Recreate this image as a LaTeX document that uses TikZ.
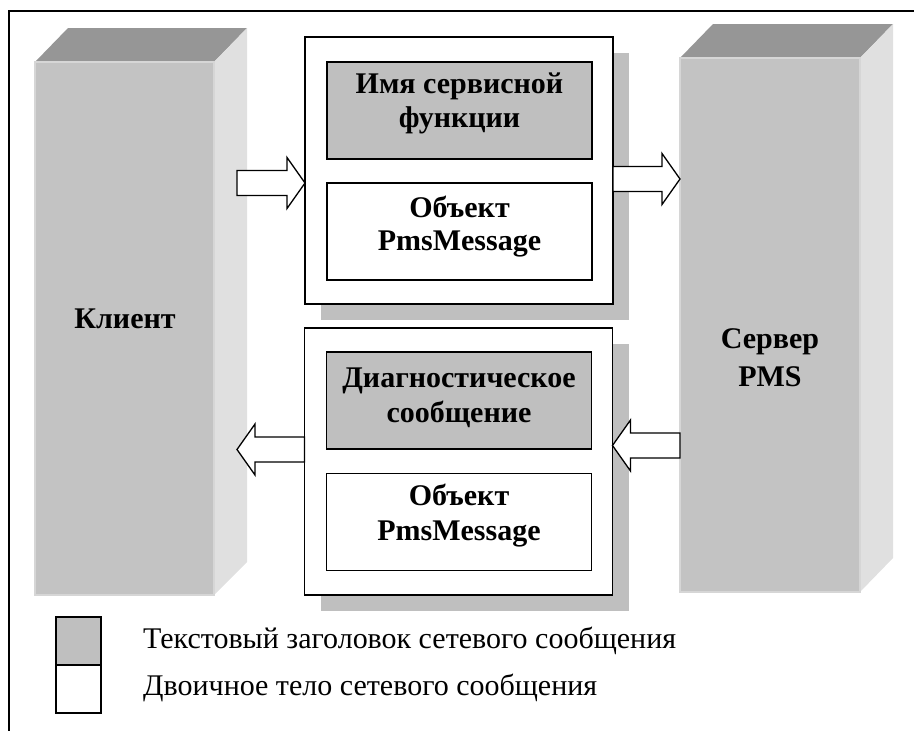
\documentclass[tikz,border=0pt]{standalone}
\usepackage{fontspec}
\setmainfont{Liberation Serif}
\usetikzlibrary{calc,backgrounds}

\definecolor{pfront}{gray}{0.765}
\definecolor{ptop}{gray}{0.59}
\definecolor{pside}{gray}{0.88}
\definecolor{pedge}{gray}{0.84}
\definecolor{hdrgray}{gray}{0.75}
\definecolor{shadowgray}{gray}{0.75}

\tikzset{
  pillarfront/.style={fill=pfront, draw=pedge, line width=1.2pt, inner sep=0pt, outer sep=0pt},
  pillartop/.style={fill=ptop},
  pillarside/.style={fill=pside},
  msgbox/.style={draw, fill=white, line width=1.6pt, inner sep=0pt, outer sep=0pt,
                 minimum width=308pt, minimum height=267pt},
  partbox/.style={draw, line width=1.6pt, inner sep=0pt, outer sep=0pt,
                  minimum width=265pt, minimum height=97pt},
  hdrbox/.style={partbox, fill=hdrgray},
  bodybox/.style={partbox, fill=white},
  btext/.style={font=\fontsize{30}{34}\selectfont\bfseries, anchor=base, inner sep=0pt},
  barrow/.style={draw, fill=white, line width=1.3pt, line join=miter},
  legbox/.style={draw, line width=1.4pt, minimum width=45pt, minimum height=48pt,
                 inner sep=0pt, outer sep=0pt},
  legtext/.style={font=\fontsize{30}{34}\selectfont, anchor=base west, inner sep=0pt},
  frameline/.style={line width=1.4pt},
}

% hollow block arrow from #1 to #2 (both on one horizontal line)
\newcommand\blockarrow[2]{%
  \coordinate (hb) at ($(#2)!18pt!(#1)$);
  \draw[barrow] ($(#1)+(0,-12.5)$) -- ($(hb)+(0,-12.5)$) -- ($(hb)+(0,-25.5)$)
    -- (#2) -- ($(hb)+(0,25.5)$) -- ($(hb)+(0,12.5)$) -- ($(#1)+(0,12.5)$) -- cycle;}

\begin{document}
\begin{tikzpicture}[x=1pt, y=-1pt]
\useasboundingbox (0,0) rectangle (914,731);

% outer frame (left and top edges)
\draw[frameline] (9,731) -- (9,11) -- (914,11);

% client pillar
\fill[pillartop] (35,62) -- (68,28) -- (247,28) -- (214,62) -- cycle;
\fill[pillarside] (214,62) -- (247,28) -- (247,562) -- (214,595) -- cycle;
\node[pillarfront, minimum width=179pt, minimum height=533pt] (client) at (124.5,328.5) {};
\node[btext] (clientlbl) at (125,328) {Клиент};

% server pillar
\fill[pillartop] (680,58) -- (713,24) -- (893,24) -- (860,58) -- cycle;
\fill[pillarside] (860,58) -- (893,24) -- (893,558) -- (860,592) -- cycle;
\node[pillarfront, minimum width=180pt, minimum height=534pt] (server) at (770,325) {};
\node[btext] (serverlbl1) at (770,348) {Сервер};
\node[btext] (serverlbl2) at (770,386) {PMS};

% request message
\node[msgbox] (msg1) at (459,170.5) {};
\node[hdrbox] (hdr1) at (459.5,110.5) {};
\node[bodybox] (body1) at (459.5,231.5) {};
\node[btext] (hdr1a) at (459.5,93) {Имя сервисной};
\node[btext] (hdr1b) at (459.5,127) {функции};
\node[btext] (body1a) at (459.5,217) {Объект};
\node[btext] (body1b) at (459.5,250) {PmsMessage};

% response message
\node[msgbox] (msg2) at (458.5,461.5) {};
\node[hdrbox] (hdr2) at (459,400.5) {};
\node[bodybox] (body2) at (459,522) {};
\node[btext] (hdr2a) at (459,387) {Диагностическое};
\node[btext] (hdr2b) at (459,422) {сообщение};
\node[btext] (body2a) at (459,505) {Объект};
\node[btext] (body2b) at (459,540) {PmsMessage};

% drop shadows behind the message frames
\begin{scope}[on background layer]
  \fill[shadowgray] ($(msg1.south west)+(16,16)$) rectangle ($(msg1.north east)+(16,16)$);
  \fill[shadowgray] ($(msg2.south west)+(16,16)$) rectangle ($(msg2.north east)+(16,16)$);
\end{scope}

% arrows
\coordinate (r1) at (0,183);
\coordinate (r2) at (0,179);
\coordinate (r3) at (0,445.5);
\coordinate (r4) at (0,449.5);
\coordinate (a1tail) at (237,183);
\coordinate (a4tip) at (237,449.5);
\blockarrow{a1tail}{msg1.west |- r1}
\blockarrow{msg1.east |- r2}{server.west |- r2}
\blockarrow{server.west |- r3}{msg2.east |- r3}
\blockarrow{msg2.west |- r4}{a4tip}

% legend
\node[legbox, fill=hdrgray] (leg1) at (78.5,641) {};
\node[legbox, fill=white] (leg2) at (78.5,689) {};
\node[legtext] (leg1txt) at (143,648) {Текстовый заголовок сетевого сообщения};
\node[legtext] (leg2txt) at (143,695) {Двоичное тело сетевого сообщения};
\end{tikzpicture}
\end{document}
